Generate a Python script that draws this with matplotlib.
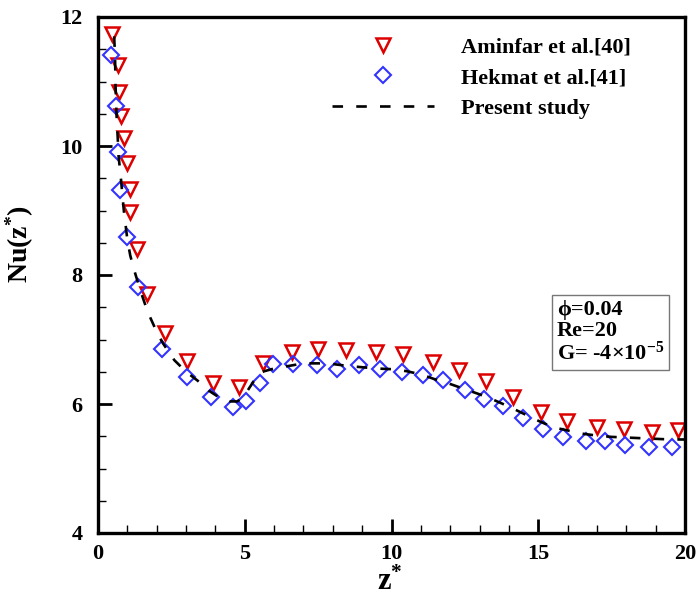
import matplotlib
matplotlib.use("Agg")
import matplotlib.pyplot as plt
from matplotlib.ticker import MultipleLocator

plt.rcParams['font.family'] = ['Liberation Serif', 'DejaVu Serif']
plt.rcParams['font.weight'] = 'bold'
plt.rcParams['mathtext.fontset'] = 'custom'
plt.rcParams['mathtext.rm'] = 'Liberation Serif:bold'
plt.rcParams['mathtext.it'] = 'Liberation Serif:bold'
plt.rcParams['mathtext.bf'] = 'Liberation Serif:bold'

# Aminfar et al.[40]
z_amin = [0.49, 0.69, 0.72, 0.78, 0.90, 0.98, 1.09, 1.10, 1.32, 1.66, 2.28, 3.04, 3.91,
          4.80, 5.63, 6.62, 7.51, 8.45, 9.46, 10.38, 11.40, 12.30, 13.22, 14.15, 15.08,
          15.97, 16.99, 17.93, 18.86, 19.77]
nu_amin = [11.73, 11.26, 10.83, 10.47, 10.13, 9.73, 9.34, 8.97, 8.41, 7.70, 7.10, 6.67, 6.33,
           6.26, 6.64, 6.81, 6.86, 6.83, 6.81, 6.77, 6.65, 6.53, 6.35, 6.11, 5.88,
           5.73, 5.64, 5.61, 5.57, 5.60]

# Hekmat et al.[41]
z_hek = [0.44, 0.60, 0.67, 0.75, 1.00, 1.37, 2.17, 3.04, 3.84, 4.61, 5.04, 5.52, 5.97,
         6.66, 7.47, 8.15, 8.90, 9.61, 10.37, 11.08, 11.74, 12.50, 13.15, 13.81, 14.49,
         15.15, 15.85, 16.63, 17.27, 17.96, 18.78, 19.55]
nu_hek = [11.41, 10.62, 9.90, 9.32, 8.59, 7.81, 6.86, 6.42, 6.11, 5.96, 6.04, 6.32, 6.62,
          6.62, 6.60, 6.55, 6.60, 6.54, 6.49, 6.45, 6.37, 6.22, 6.07, 5.97, 5.78,
          5.62, 5.49, 5.42, 5.42, 5.36, 5.33, 5.33]

# Present study
z_pres = [0.55, 0.58, 0.60, 0.63, 0.67, 0.70, 0.78, 0.88, 1.00, 1.10, 1.25, 1.45, 1.70,
          2.00, 2.20, 2.60, 3.00, 3.40, 3.80, 4.20, 4.50, 4.75, 5.00, 5.30, 5.60, 6.00,
          6.50, 7.00, 7.50, 8.00, 8.50, 9.00, 9.50, 10.00, 10.50, 11.00, 11.50, 12.00,
          12.50, 13.00, 13.50, 14.00, 14.50, 15.00, 15.50, 16.00, 16.50, 17.00, 17.50,
          18.00, 18.50, 19.00, 19.50, 20.00]
nu_pres = [11.70, 11.40, 10.90, 10.50, 10.15, 9.85, 9.50, 9.00, 8.55, 8.30, 8.05, 7.75, 7.42,
           7.12, 6.95, 6.68, 6.50, 6.36, 6.20, 6.08, 6.04, 6.04, 6.14, 6.35, 6.50, 6.55,
           6.59, 6.63, 6.63, 6.62, 6.59, 6.57, 6.55, 6.54, 6.51, 6.46, 6.38, 6.31,
           6.23, 6.15, 6.06, 5.96, 5.85, 5.74, 5.64, 5.59, 5.54, 5.51, 5.49,
           5.48, 5.47, 5.46, 5.45, 5.45]

fig = plt.figure(figsize=(6.97, 5.99), dpi=100)
ax = fig.add_axes([98 / 697, 66 / 599, 587 / 697, 516 / 599])

ax.plot(z_amin, nu_amin, linestyle='none', marker='v', markersize=10.5,
        markerfacecolor='none', markeredgecolor='#dd0000', markeredgewidth=1.8,
        label='Aminfar et al.[40]')
ax.plot(z_hek, nu_hek, linestyle='none', marker='D', markersize=8.5,
        markerfacecolor='none', markeredgecolor='#3333ff', markeredgewidth=1.5,
        label='Hekmat et al.[41]')
ax.plot(z_pres, nu_pres, color='black', linewidth=1.9, dashes=(4, 5),
        label='Present study')

ax.set_xlim(0, 20)
ax.set_ylim(4, 12)
ax.xaxis.set_major_locator(MultipleLocator(5))
ax.xaxis.set_minor_locator(MultipleLocator(1))
ax.yaxis.set_major_locator(MultipleLocator(2))
ax.yaxis.set_minor_locator(MultipleLocator(0.5))
ax.tick_params(which='major', direction='in', length=10, width=2, labelsize=16, pad=8)
ax.tick_params(which='minor', direction='in', length=6, width=1)
ax.tick_params(axis='y', which='major', pad=11)
for s in ax.spines.values():
    s.set_linewidth(2.4)

ax.set_xlabel('z$^{*}$', fontsize=22, fontweight='bold')
ax.set_ylabel('Nu(z$^{*}$)', fontsize=20, fontweight='bold')
ax.xaxis.set_label_coords(0.497, -0.068)
ax.yaxis.set_label_coords(-0.105, 0.56)

leg = ax.legend(loc='upper left', bbox_to_anchor=(0.365, 1.0), frameon=False,
                fontsize=16, handlelength=4.6, handletextpad=1.2, labelspacing=0.45)

ax.text(0.782, 0.452, 'ϕ=0.04\nRe=20\nG= -4×10$^{-5}$', transform=ax.transAxes,
        fontsize=16, fontweight='bold', va='top', ha='left', linespacing=1.05,
        bbox=dict(boxstyle='square,pad=0.22', facecolor='white', edgecolor='#777777',
                  linewidth=1))

fig.savefig('out.png', dpi=100)
